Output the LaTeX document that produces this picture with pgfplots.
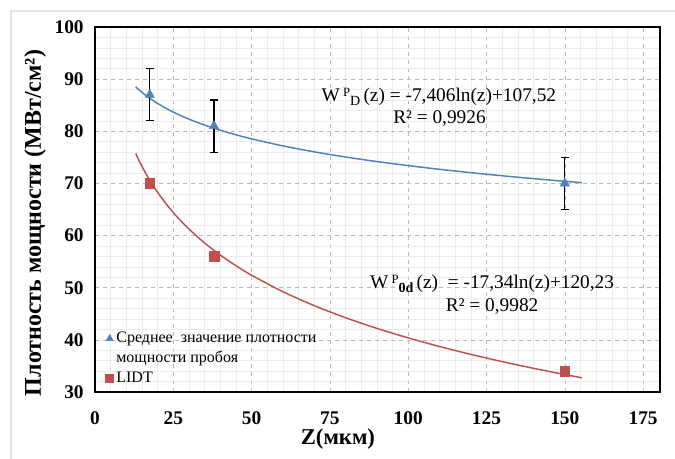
\documentclass[border=0pt]{standalone}
\usepackage{fontspec}
\setmainfont{Liberation Serif}
\usepackage{pgfplots}
\pgfplotsset{compat=1.18}
\definecolor{bl}{RGB}{79,129,189}
\definecolor{rd}{RGB}{192,80,77}
\begin{document}
\begin{tikzpicture}
\path[use as bounding box] (-71.25pt,-50.25pt) rectangle (435pt,294pt);
\draw[gray!20, line width=0.8pt] (-63pt,-50.25pt) -- (-63pt,285.75pt) -- (435pt,285.75pt);
\begin{axis}[
  at={(0pt,0pt)}, anchor=south west,
  width=423.75pt, height=273.75pt, scale only axis,
  xmin=0, xmax=180.4, ymin=30, ymax=100,
  xtick={0,25,...,175}, ytick={30,40,...,100},
  xticklabels={0,25,50,75,100,125,150,175},
  yticklabels={30,40,50,60,70,80,90,100},
  minor x tick num=4, minor y tick num=4,
  grid=both,
  major grid style={dashed, gray!55, line width=0.4pt},
  minor grid style={gray!15, line width=0.4pt},
  tick style={draw=none},
  axis line style={black, line width=0.9pt},
  tick label style={font=\fontsize{14.5}{16}\selectfont\bfseries},
  yticklabel style={xshift=-5pt},
  xticklabel style={yshift=-11pt},
  xlabel={Z(мкм)},
  xlabel style={at={(axis description cs:0.43,-0.129)}, anchor=center, font=\fontsize{17}{19}\selectfont\bfseries},
  ylabel={Плотность мощности (МВт/см²)},
  ylabel style={at={(axis description cs:-0.106,0.463)}, anchor=center, font=\fontsize{18}{20}\selectfont\bfseries},
  legend style={at={(axis description cs:0.003,0.01)}, anchor=south west, draw=none, fill=none,
    font=\fontsize{12}{14}\selectfont, row sep=1pt, inner sep=1pt},
  legend cell align=left,
]
% trend lines
\addplot[bl, line width=1.1pt, smooth, forget plot] coordinates {
 (13,88.524) (14,87.975) (16,86.986) (18,86.114) (20,85.334) (23,84.298) (26,83.390)
 (30,82.331) (35,81.189) (40,80.200) (45,79.328) (50,78.548) (60,77.198) (70,76.056)
 (80,75.067) (90,74.194) (100,73.414) (110,72.708) (120,72.064) (130,71.471)
 (140,70.922) (150,70.411) (155.5,70.145)};
\addplot[rd, line width=1.1pt, smooth, forget plot] coordinates {
 (13,75.754) (14,74.468) (16,72.153) (18,70.110) (20,68.285) (23,65.860) (26,63.735)
 (30,61.253) (35,58.581) (40,56.265) (45,54.222) (50,52.396) (60,49.235) (70,46.561)
 (80,44.246) (90,42.203) (100,40.376) (110,38.723) (120,37.215) (130,35.828)
 (140,34.543) (150,33.346) (155.5,32.722)};
% data
\addplot[only marks, mark=triangle*, mark size=4pt, color=bl, forget plot,
  error bars/.cd, y dir=both, y explicit,
  error bar style={black, line width=0.8pt},
  error mark options={black, rotate=90, mark size=3pt, line width=0.8pt}]
  coordinates {(17.5,87) +- (0,5) (38,81) +- (0,5) (150,70) +- (0,5)};
\addplot[only marks, mark=square*, mark size=3.6pt, color=rd, forget plot]
  coordinates {(17.5,70) (38,56) (150,34)};
\addlegendimage{only marks, mark=triangle*, mark size=3pt, color=bl}
\addlegendentry{Среднее\ \ значение плотности}
\addlegendimage{empty legend}
\addlegendentry{мощности пробоя}
\addlegendimage{only marks, mark=square*, mark size=3pt, color=rd}
\addlegendentry{LIDT}
% equations
\node[font=\fontsize{14.5}{16}\selectfont] at (axis cs:109.8,86.6)
 {W\,\raisebox{0.6ex}{\fontsize{9.5}{9.5}\selectfont P}\raisebox{-0.45ex}{\fontsize{10.5}{10.5}\selectfont D}\,(z) = -7,406ln(z)+107,52};
\node[font=\fontsize{14.5}{16}\selectfont] at (axis cs:110,82.5) {R² = 0,9926};
\node[font=\fontsize{14.5}{16}\selectfont] at (axis cs:126.8,50.7)
 {W\,\raisebox{0.6ex}{\fontsize{9.5}{9.5}\selectfont P}\raisebox{-0.45ex}{\fontsize{10.5}{10.5}\selectfont\bfseries 0d}\,(z)\ \ = -17,34ln(z)+120,23};
\node[font=\fontsize{14.5}{16}\selectfont] at (axis cs:126.8,46.3) {R² = 0,9982};
\end{axis}
\end{tikzpicture}
\end{document}
